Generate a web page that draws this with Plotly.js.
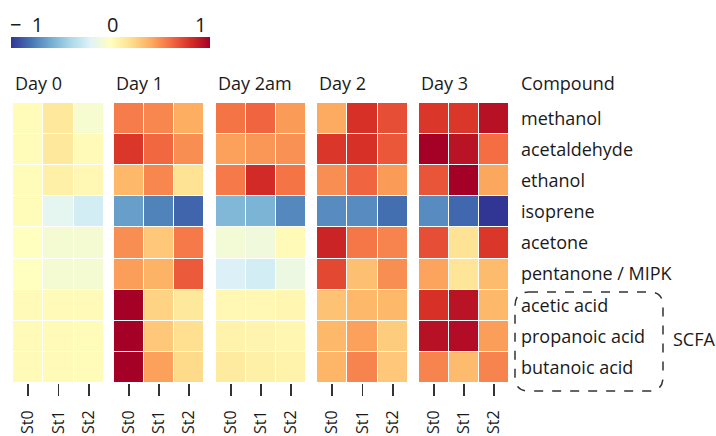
<!DOCTYPE html>
<html><head><meta charset="utf-8">
<script src="https://cdn.plot.ly/plotly-3.0.1.min.js"></script>
<style>html,body{margin:0;padding:0;background:#fff}</style>
</head><body><div id="chart" style="width:716px;height:436px"></div>
<script>
const days = ["Day 0", "Day 1", "Day 2am", "Day 2", "Day 3"];
const stations = ["St0", "St1", "St2"];
const compounds = ["methanol", "acetaldehyde", "ethanol", "isoprene", "acetone", "pentanone / MIPK", "acetic acid", "propanoic acid", "butanoic acid"];
const day0 = [[0.02,0.15,-0.06],[0.02,0.15,0.03],[0.02,0.1,0.05],[0.02,-0.17,-0.25],[0.0,-0.07,-0.07],[0.0,-0.07,-0.07],[0.03,0.03,0.03],[0.03,0.03,0.02],[0.03,0.03,0.02]];
const day1 = [[0.55,0.52,0.4],[0.78,0.62,0.5],[0.36,0.52,0.18],[-0.65,-0.75,-0.85],[0.5,0.3,0.56],[0.45,0.38,0.66],[1.0,0.25,0.15],[1.0,0.3,0.2],[1.0,0.44,0.22]];
const day2am = [[0.58,0.63,0.46],[0.44,0.47,0.49],[0.56,0.82,0.58],[-0.55,-0.57,-0.73],[-0.08,-0.1,0.03],[-0.22,-0.25,-0.12],[0.05,0.05,0.06],[0.08,0.07,0.06],[0.13,0.1,0.08]];
const day2 = [[0.41,0.8,0.7],[0.78,0.8,0.67],[0.5,0.63,0.46],[-0.72,-0.72,-0.82],[0.85,0.57,0.53],[0.72,0.33,0.5],[0.32,0.36,0.36],[0.36,0.44,0.28],[0.37,0.53,0.3]];
const day3 = [[0.78,0.78,0.93],[1.0,0.92,0.6],[0.68,1.0,0.42],[-0.72,-0.84,-1.0],[0.7,0.18,0.78],[0.43,0.17,0.35],[0.8,0.92,0.36],[0.93,0.95,0.45],[0.53,0.35,0.53]];
const colorbarTicks = [-1, 0, 1];
const colorbarTickText = ["\u2212\u00a0\u00a01", "0", "1"];

const allData = [day0, day1, day2am, day2, day3];
const scale = [[0,'#313695'],[0.1,'#4575b4'],[0.2,'#74add1'],[0.3,'#abd9e9'],[0.4,'#e0f3f8'],[0.5,'#ffffbf'],[0.6,'#fee090'],[0.7,'#fdae61'],[0.8,'#f46d43'],[0.9,'#d73027'],[1,'#a50026']];
const FONT = "Open Sans, sans-serif";
const W = 716, H = 436;
const panelPx = [[13,104],[114,204],[216,306],[317,408],[419,509]];
const yTop = 103, yBot = 383;

const traces = allData.map((z, i) => ({
  type: 'heatmap', z: z, x: stations, y: compounds,
  xaxis: i === 0 ? 'x' : 'x' + (i + 1), yaxis: 'y',
  colorscale: scale, zmin: -1, zmax: 1, xgap: 1, ygap: 1,
  showscale: i === 0,
  colorbar: {orientation: 'h', lenmode: 'pixels', len: 199, thickness: 11,
    xanchor: 'left', x: 11 / W, yanchor: 'top', y: 1 - 37 / H, xpad: 0, ypad: 0,
    outlinewidth: 0, showticklabels: false, ticks: ''},
  hoverinfo: 'skip'
}));

const layout = {
  width: W, height: H, margin: {l: 0, r: 0, t: 0, b: 0},
  paper_bgcolor: '#fff', plot_bgcolor: '#fff',
  font: {family: FONT, size: 16, color: '#1a1a1a'},
  showlegend: false,
  yaxis: {domain: [1 - yBot / H, 1 - yTop / H], anchor: 'x5', side: 'right',
    autorange: 'reversed', type: 'category', ticks: '', showgrid: false, zeroline: false,
    ticklabelstandoff: 11, tickfont: {family: FONT, size: 18, color: '#1a1a1a'}},
  annotations: [], shapes: []
};
panelPx.forEach((p, i) => {
  const key = i === 0 ? 'xaxis' : 'xaxis' + (i + 1);
  layout[key] = {domain: [p[0] / W, p[1] / W], anchor: 'y', type: 'category',
    ticks: 'outside', ticklen: 12, tickwidth: 1.5, tickcolor: '#333', tickangle: -90,
    ticklabelstandoff: 8, showgrid: false, zeroline: false, showline: false,
    tickfont: {family: FONT, size: 16, color: '#1a1a1a'}};
  layout.annotations.push({text: days[i], xref: 'paper', yref: 'paper', x: p[0] / W, y: 1 - 83 / H,
    xanchor: 'left', yanchor: 'middle', showarrow: false, font: {family: FONT, size: 18, color: '#1a1a1a'}});
});
layout.annotations.push({text: 'Compound', xref: 'paper', yref: 'paper', x: 519 / W, y: 1 - 83 / H,
  xanchor: 'left', yanchor: 'middle', showarrow: false, font: {family: FONT, size: 18, color: '#1a1a1a'}});
layout.annotations.push({text: 'SCFA', xref: 'paper', yref: 'paper', x: 671 / W, y: 1 - 339 / H,
  xanchor: 'left', yanchor: 'middle', showarrow: false, font: {family: FONT, size: 18, color: '#1a1a1a'}});
const cbPos = [26, 113, 200];
colorbarTicks.forEach((t, i) => {
  layout.annotations.push({text: colorbarTickText[i], xref: 'paper', yref: 'paper', x: cbPos[i] / W, y: 1 - 24 / H,
    xanchor: 'center', yanchor: 'middle', showarrow: false, font: {family: FONT, size: 20, color: '#1a1a1a'}});
});
// rounded dashed box around SCFA labels (paper coords)
const bx0 = 515 / W, bx1 = 663 / W, by0 = 1 - 391 / H, by1 = 1 - 292 / H;
const rx = 14 / W, ry = 14 / H;
const path = `M ${bx0 + rx} ${by1} L ${bx1 - rx} ${by1} Q ${bx1} ${by1} ${bx1} ${by1 - ry} L ${bx1} ${by0 + ry} Q ${bx1} ${by0} ${bx1 - rx} ${by0} L ${bx0 + rx} ${by0} Q ${bx0} ${by0} ${bx0} ${by0 + ry} L ${bx0} ${by1 - ry} Q ${bx0} ${by1} ${bx0 + rx} ${by1} Z`;
layout.shapes.push({type: 'path', xref: 'paper', yref: 'paper', path: path,
  line: {color: '#333', width: 1.5, dash: 'dash'}});

Plotly.newPlot('chart', traces, layout, {displayModeBar: false, staticPlot: true});
</script></body></html>
